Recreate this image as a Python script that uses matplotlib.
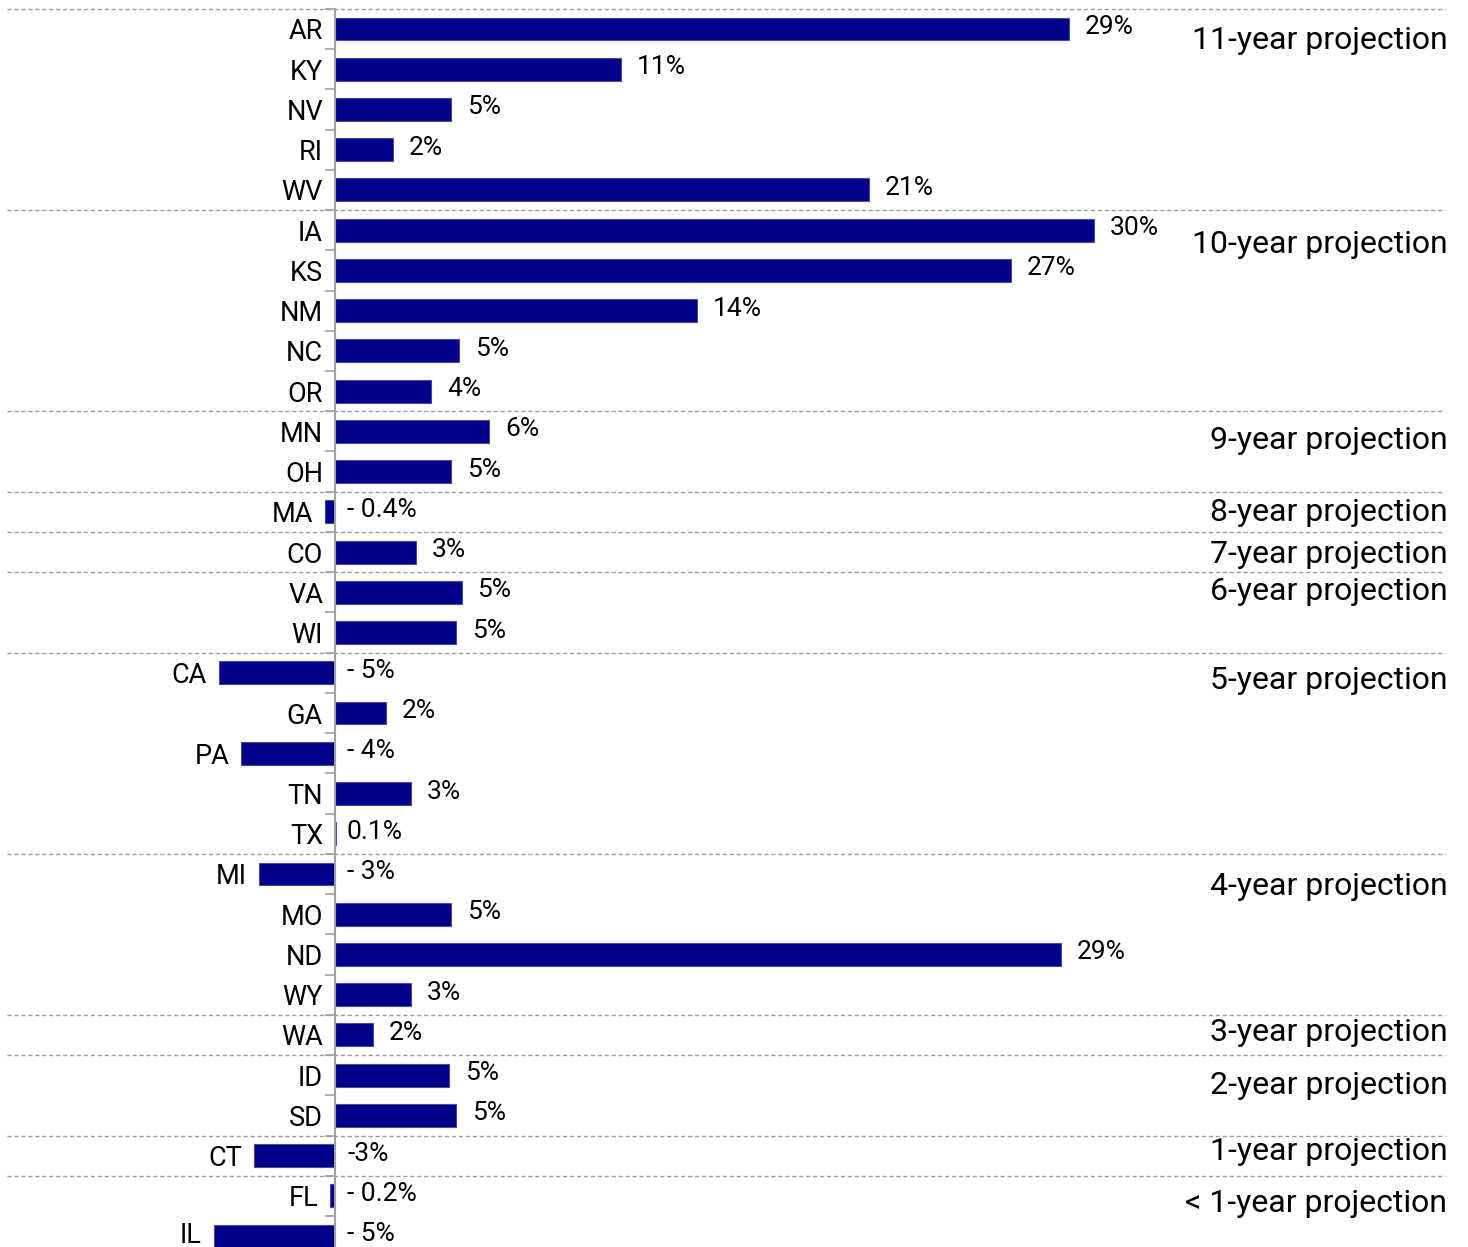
import matplotlib
matplotlib.use("Agg")
import matplotlib.pyplot as plt

plt.rcParams['font.family'] = ['Roboto', 'DejaVu Sans']

# data
states = ['AR', 'KY', 'NV', 'RI', 'WV', 'IA', 'KS', 'NM', 'NC', 'OR', 'MN', 'OH',
          'MA', 'CO', 'VA', 'WI', 'CA', 'GA', 'PA', 'TN', 'TX', 'MI', 'MO', 'ND',
          'WY', 'WA', 'ID', 'SD', 'CT', 'FL', 'IL']
values = [29.0, 11.3, 4.6, 2.3, 21.1, 30.0, 26.7, 14.3, 4.9, 3.8, 6.1, 4.6,
          -0.4, 3.2, 5.0, 4.8, -4.6, 2.0, -3.7, 3.0, 0.03, -3.0, 4.6, 28.7,
          3.0, 1.5, 4.5, 4.8, -3.2, -0.2, -4.8]
value_labels = ['29%', '11%', '5%', '2%', '21%', '30%', '27%', '14%', '5%', '4%', '6%', '5%',
                '- 0.4%', '3%', '5%', '5%', '- 5%', '2%', '- 4%', '3%', '0.1%', '- 3%', '5%', '29%',
                '3%', '2%', '5%', '5%', '-3%', '- 0.2%', '- 5%']
group_names = ['11-year projection', '10-year projection', '9-year projection',
               '8-year projection', '7-year projection', '6-year projection',
               '5-year projection', '4-year projection', '3-year projection',
               '2-year projection', '1-year projection', '< 1-year projection']
group_starts = [0, 5, 10, 12, 13, 14, 16, 21, 25, 26, 28, 29]

# layout: where each group title sits relative to its first row
title_shift = [0.28, 0.35, 0.22, 0.02, 0.05, -0.02, 0.2, 0.3, -0.05, 0.25, -0.1, 0.2]

BAR = '#000088'
GRID = '#9a9a9a'

fig = plt.figure(figsize=(14.68, 12.47), dpi=100)
ax = fig.add_axes([0, 0, 1, 1])

rows = list(range(len(states)))
ax.barh(rows, values, height=0.57, color=BAR, edgecolor='#4a4aa8', linewidth=0.8, zorder=2)

ax.set_xlim(-335 / 25.3, (1468 - 335) / 25.3)
ax.set_ylim(30.27, -0.72)

for i, (st, v, lab) in enumerate(zip(states, values, value_labels)):
    dy = -3 if i < len(states) - 1 else 1
    ax.annotate(st, (min(v, 0), i), xytext=(-12, dy), textcoords='offset pixels',
                ha='right', va='center', fontsize=19.5, color='black')
    if v >= 0.5:
        ax.annotate(lab, (v, i), xytext=(16, 2), textcoords='offset pixels',
                    ha='left', va='center', fontsize=19, color='black')
    else:
        ax.annotate(lab, (0, i), xytext=(12, 2), textcoords='offset pixels',
                    ha='left', va='center', fontsize=19, color='black')

# group separators and titles
for g, (name, start) in enumerate(zip(group_names, group_starts)):
    ax.axhline(start - 0.5, xmin=7 / 1468, xmax=1445 / 1468, color=GRID,
               linewidth=1, linestyle=(0, (3, 2)), zorder=1)
    ax.text(0.986, start + title_shift[g], name, transform=ax.get_yaxis_transform(),
            ha='right', va='center', fontsize=23, color='black')

# axis line at zero with category ticks
for s in ['top', 'right', 'bottom']:
    ax.spines[s].set_visible(False)
ax.spines['left'].set_position(('data', 0))
ax.spines['left'].set_color('#a0a0a0')
ax.spines['left'].set_linewidth(1.5)
ax.spines['left'].set_bounds(-0.5, 30.27)
ax.set_yticks([r - 0.5 for r in rows])
ax.tick_params(axis='y', direction='out', length=7, color='#a0a0a0', width=1.2, labelleft=False)
ax.set_xticks([])

fig.savefig('out.png', dpi=100)
